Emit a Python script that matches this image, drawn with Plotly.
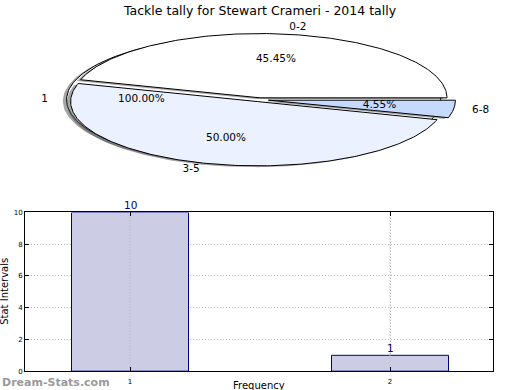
import numpy as np
import plotly.graph_objects as go

# ---- data ----
title_text = "Tackle tally for Stewart Crameri - 2014 tally"
pie_labels = ["0-2", "3-5", "6-8"]
pie_values = [10, 11, 1]
pie_colors = ["#FFFFFF", "#EBF1FF", "#C6D9FF"]
pie_explode = [0.03, 0.03, 0.05]
base_label = "1"
base_value = [1]
base_explode = 0.03

bar_x = [1, 2]
bar_y = [10, 1]
bar_ticks = [1, 2]
y_ticks = [0, 2, 4, 6, 8, 10]

FONT = "DejaVu Sans"

fig = go.Figure()

W, H = 520, 390


def ypx(t):
    # compensate for the slight vertical rescale of the photographed page
    return (t - 3.5) / 0.975


cx_px, cy_px = 259.2, ypx(98.8)
rx_px, ry_px = 187.0, 64.0 / 0.975
pie_top_px, pie_bot_px = 20, 180
px_range = [-cx_px / rx_px, (W - cx_px) / rx_px]
py_range = [-(pie_bot_px - cy_px) / ry_px, (cy_px - pie_top_px) / ry_px]


def wedge(t1, t2, ox, oy, full=False):
    th = np.radians(np.linspace(t1, t2, 200))
    xs = ox + np.cos(th)
    ys = oy + np.sin(th)
    if full:
        return list(xs), list(ys)
    return [ox] + list(xs) + [ox], [oy] + list(ys) + [oy]


def add_poly(xs, ys, fill, line_w=1, line_c="black"):
    fig.add_trace(go.Scatter(x=xs, y=ys, mode="lines", fill="toself",
                             fillcolor=fill,
                             line=dict(color=line_c, width=line_w),
                             hoverinfo="skip", showlegend=False, cliponaxis=False,
                             xaxis="x", yaxis="y"))


sdx, sdy = -0.02, -0.02
shadow_col = "rgba(77,77,77,0.5)"

# base single-slice pie (label "1", 100%)
bmid = 180.0
box, boy = base_explode * np.cos(np.radians(bmid)), base_explode * np.sin(np.radians(bmid))
xs, ys = wedge(0, 360, box, boy, full=True)
add_poly([x + sdx for x in xs], [y + sdy for y in ys], shadow_col, 0, "rgba(0,0,0,0)")
add_poly(xs, ys, "#FFFFFF")

# main pie
total = float(sum(pie_values))
fracs = [v / total for v in pie_values]
starts = np.concatenate([[0], np.cumsum(fracs)[:-1]]) * 360
ends = np.cumsum(fracs) * 360
geo = []
for i in range(len(pie_values)):
    mid = (starts[i] + ends[i]) / 2
    ox = pie_explode[i] * np.cos(np.radians(mid))
    oy = pie_explode[i] * np.sin(np.radians(mid))
    geo.append((mid, ox, oy))
for i in range(len(pie_values)):
    mid, ox, oy = geo[i]
    xs, ys = wedge(starts[i], ends[i], ox, oy)
    add_poly([x + sdx for x in xs], [y + sdy for y in ys], shadow_col, 0, "rgba(0,0,0,0)")
for i in range(len(pie_values)):
    mid, ox, oy = geo[i]
    xs, ys = wedge(starts[i], ends[i], ox, oy)
    add_poly(xs, ys, pie_colors[i])

lab_x, lab_y, lab_t, lab_p = [], [], [], []
pct_x, pct_y, pct_t = [], [], []
for i in range(len(pie_values)):
    mid, ox, oy = geo[i]
    lx = ox + 1.1 * np.cos(np.radians(mid))
    ly = oy + 1.1 * np.sin(np.radians(mid))
    lab_x.append(lx); lab_y.append(ly); lab_t.append(pie_labels[i])
    lab_p.append("middle right" if lx > 0 else "middle left")
    pct_x.append(ox + 0.6 * np.cos(np.radians(mid)))
    pct_y.append(oy + 0.6 * np.sin(np.radians(mid)))
    pct_t.append("%.2f%%" % (100 * fracs[i]))
lab_x.append(box + 1.1 * np.cos(np.radians(bmid)))
lab_y.append(boy + 1.1 * np.sin(np.radians(bmid)))
lab_t.append(base_label)
lab_p.append("middle left")
pct_x.append(box + 0.6 * np.cos(np.radians(bmid)))
pct_y.append(boy + 0.6 * np.sin(np.radians(bmid)))
pct_t.append("%.2f%%" % (100 * base_value[0] / sum(base_value)))

fig.add_trace(go.Scatter(x=lab_x, y=lab_y, text=lab_t, mode="text",
                         textposition=lab_p, cliponaxis=False,
                         textfont=dict(family=FONT, size=10.5, color="black"),
                         hoverinfo="skip", showlegend=False, xaxis="x", yaxis="y"))
fig.add_trace(go.Scatter(x=pct_x, y=pct_y, text=pct_t, mode="text",
                         textposition="middle center", cliponaxis=False,
                         textfont=dict(family=FONT, size=10.5, color="black"),
                         hoverinfo="skip", showlegend=False, xaxis="x", yaxis="y"))

# bars
fig.add_trace(go.Bar(x=bar_x, y=bar_y, width=0.45,
                     marker=dict(color="#CCCCE5", line=dict(color="#000080", width=1)),
                     showlegend=False, hoverinfo="skip",
                     xaxis="x2", yaxis="y2"))
# vertical dotted grid drawn over the bars
for t in bar_ticks:
    fig.add_trace(go.Scatter(x=[t, t], y=[y_ticks[0], y_ticks[-1]], mode="lines",
                             line=dict(color="#b8b8b8", width=1, dash="1px,2px"),
                             hoverinfo="skip", showlegend=False,
                             xaxis="x2", yaxis="y2"))

bar_left, bar_right = 25, 493
bar_top, bar_bot = ypx(211), ypx(369)
x_unit = 260.0
x0 = bar_x[0] - (130 - bar_left) / x_unit
xr = [x0, x0 + (bar_right - bar_left) / x_unit]

axis_common = dict(ticks="inside", ticklen=4, tickcolor="black",
                   showline=True, linecolor="black", linewidth=1, mirror="ticks",
                   showgrid=True, gridcolor="#b8b8b8", griddash="1px,2px", gridwidth=1,
                   zeroline=False, tickfont=dict(size=7, family=FONT, color="black"))

annotations = [
    dict(text=title_text, x=0.5, y=1 - ypx(10) / H, xref="paper", yref="paper",
         xanchor="center", yanchor="middle", showarrow=False,
         font=dict(size=12.5, family=FONT, color="black")),
    dict(text="Stat Intervals", x=5 / W, y=1 - ypx(290) / H, xref="paper", yref="paper",
         xanchor="center", yanchor="middle", textangle=-90, showarrow=False,
         font=dict(size=10, family=FONT, color="black")),
    dict(text="Frequency", x=259 / W, y=0, xref="paper", yref="paper",
         xanchor="center", yanchor="bottom", yshift=-7, showarrow=False,
         font=dict(size=10, family=FONT, color="black")),
    dict(text="<b>Dream-Stats.com</b>", x=0, y=1 - ypx(380) / H, xref="paper", yref="paper",
         xanchor="left", yanchor="middle", showarrow=False,
         font=dict(size=11, family="DejaVu Sans", color="#9a9a9a")),
]
for xv, yv in zip(bar_x, bar_y):
    annotations.append(dict(text=str(yv), x=xv, y=yv, xref="x2", yref="y2",
                            xanchor="center", yanchor="bottom", yshift=-1,
                            showarrow=False,
                            font=dict(size=10.5, family=FONT, color="#000080")))

fig.update_layout(
    width=W, height=H,
    margin=dict(l=0, r=0, t=0, b=0),
    paper_bgcolor="white", plot_bgcolor="white",
    font=dict(family=FONT, color="black"),
    xaxis=dict(domain=[0, 1], range=px_range, visible=False, fixedrange=True),
    yaxis=dict(domain=[1 - pie_bot_px / H, 1 - pie_top_px / H], range=py_range,
               visible=False, fixedrange=True),
    xaxis2=dict(domain=[bar_left / W, bar_right / W], range=xr, anchor="y2",
                tickvals=bar_ticks, ticktext=[str(t) for t in bar_ticks],
                ticklabelstandoff=3, **axis_common),
    yaxis2=dict(domain=[1 - bar_bot / H, 1 - bar_top / H], range=[0, 10], anchor="x2",
                tickvals=y_ticks, **axis_common),
    annotations=annotations,
)

fig.write_html("out.html", config={"displayModeBar": False},
               post_script="document.body.style.margin='0';document.documentElement.style.overflow='hidden';")
